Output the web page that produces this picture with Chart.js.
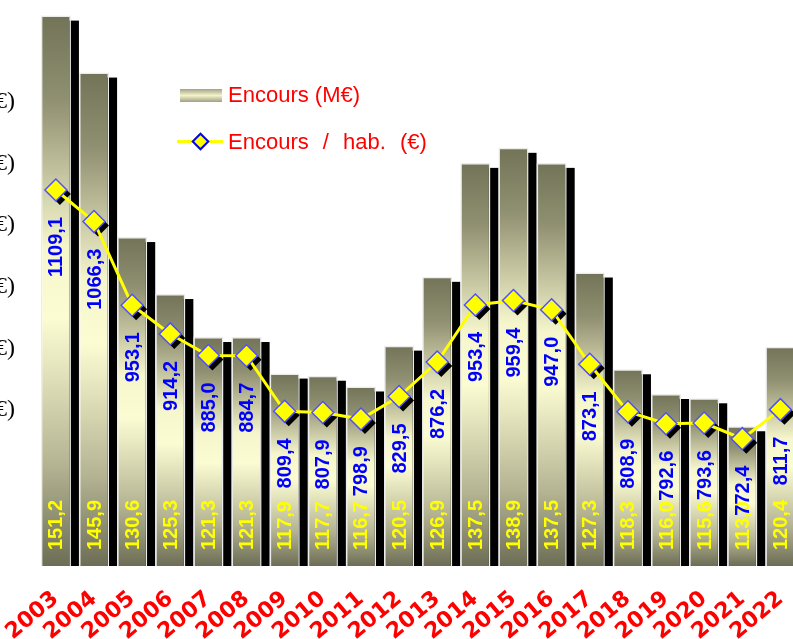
<!DOCTYPE html>
<html>
<head>
<meta charset="utf-8">
<script src="https://cdn.jsdelivr.net/npm/chart.js@4/dist/chart.umd.min.js"></script>
<style>
  html, body { margin: 0; padding: 0; width: 793px; height: 639px; overflow: hidden; background: #fff; }
  #wrap { position: absolute; left: -4px; top: 0; width: 816px; height: 639px; }
  .unit { position: absolute; width: 60px; text-align: right; font: 24px "Liberation Serif", serif; color: #000; line-height: 24px; }
  .leg { position: absolute; font: 22px "Liberation Sans", sans-serif; color: #ff0000; line-height: 22px; white-space: pre; }
  .swatch { position: absolute; left: 180px; top: 89px; width: 42px; height: 13px;
            background: linear-gradient(to bottom, #a3a385, #f3f3cb 50%, #9f9f81); }
  .lline { position: absolute; left: 177px; top: 140px; width: 46px; height: 3px; background: #ffff00; }
  .ldiam { position: absolute; left: 194px; top: 135px; width: 9px; height: 9px; background: #ffff00;
           border: 2px solid #0000ff; transform: rotate(45deg); }
</style>
</head>
<body>
<div id="wrap"><canvas id="chart"></canvas></div>

<div class="swatch"></div>
<div class="leg" style="left:228px; top:84px;">Encours (M€)</div>
<div class="lline"></div>
<div class="ldiam"></div>
<div class="leg" style="left:228px; top:131px; word-spacing:8px;">Encours / hab. (€)</div>

<script>
// ── Data ──────────────────────────────────────────────────────────
const YEARS = ['2003', '2004', '2005', '2006', '2007', '2008', '2009', '2010', '2011', '2012',
               '2013', '2014', '2015', '2016', '2017', '2018', '2019', '2020', '2021', '2022'];

// Encours (M€)
const ENCOURS = [151.2, 145.9, 130.6, 125.3, 121.3, 121.3, 117.9, 117.7, 116.7, 120.5,
                 126.9, 137.5, 138.9, 137.5, 127.3, 118.3, 116.0, 115.6, 113.0, 120.4];

// Encours / hab. (€)
const PAR_HAB = [1109.1, 1066.3, 953.1, 914.2, 885.0, 884.7, 809.4, 807.9, 798.9, 829.5,
                 876.2, 953.4, 959.4, 947.0, 873.1, 808.9, 792.6, 793.6, 772.4, 811.7];

// axis floors and scale (pixels per unit)
const BAR_MIN = 100, BAR_PX = 10.75;
const LINE_MIN = 600, LINE_PX = 0.7386;

// cropped unit labels on the left edge
const UNIT_TOPS = [88, 150, 211, 273, 335, 396];

UNIT_TOPS.forEach(t => {
  const d = document.createElement('div');
  d.className = 'unit';
  d.style.left = '-45px';
  d.style.top = t + 'px';
  d.textContent = '(€)';
  document.body.appendChild(d);
});

const fmt = v => v.toFixed(1).replace('.', ',');

function barGradient(c) {
  const chart = c.chart;
  if (!chart.chartArea || c.type !== 'data') return '#d8d8b0';
  const ys  = chart.scales.yBar;
  const top = ys.getPixelForValue(c.raw);
  const bot = chart.chartArea.bottom;
  const g = chart.ctx.createLinearGradient(0, top, 0, bot);
  g.addColorStop(0,    '#737358');
  g.addColorStop(0.15, '#8f8f71');
  g.addColorStop(0.42, '#f6f6cc');
  g.addColorStop(0.55, '#fcfcd3');
  g.addColorStop(0.82, '#b3b392');
  g.addColorStop(1,    '#6d6d56');
  return g;
}

// shadows + value labels
const decor = {
  id: 'decor',
  beforeDatasetDraw(chart, args) {
    const ctx = chart.ctx;
    const meta = args.meta;
    const bottom = chart.chartArea.bottom;
    ctx.save();
    ctx.fillStyle = '#000';
    if (meta.type === 'bar') {
      meta.data.forEach(b => {
        const w = b.width;
        ctx.fillRect(b.x - w / 2 + 8, b.y + 5, w, bottom - b.y - 5);
      });
    } else {
      meta.data.forEach(p => {
        const r = 11, x = p.x + 4, y = p.y + 4;
        ctx.beginPath();
        ctx.moveTo(x, y - r); ctx.lineTo(x + r, y); ctx.lineTo(x, y + r); ctx.lineTo(x - r, y);
        ctx.closePath();
        ctx.fill();
      });
    }
    ctx.restore();
  },
  afterDatasetsDraw(chart) {
    const ctx = chart.ctx;
    const bottom = chart.chartArea.bottom;
    const bars = chart.getDatasetMeta(0).data;
    const pts  = chart.getDatasetMeta(1).data;
    ctx.save();
    ctx.font = 'bold 20px "Liberation Sans", sans-serif';
    ctx.textBaseline = 'middle';

    ctx.fillStyle = '#ffff00';
    ctx.textAlign = 'left';
    bars.forEach((b, i) => {
      ctx.save();
      ctx.translate(b.x + 1, bottom - 16);
      ctx.rotate(-Math.PI / 2);
      ctx.fillText(fmt(ENCOURS[i]), 0, 0);
      ctx.restore();
    });

    ctx.fillStyle = '#0000ff';
    ctx.textAlign = 'right';
    pts.forEach((p, i) => {
      ctx.save();
      ctx.translate(p.x + 1, p.y + 27);
      ctx.rotate(-Math.PI / 2);
      ctx.fillText(fmt(PAR_HAB[i]), 0, 0);
      ctx.restore();
    });
    ctx.restore();
  }
};

const chart = new Chart(document.getElementById('chart'), {
  data: {
    labels: YEARS,
    datasets: [
      {
        type: 'bar',
        label: 'Encours (M€)',
        data: ENCOURS,
        yAxisID: 'yBar',
        backgroundColor: barGradient,
        borderColor: '#ececec',
        borderWidth: 1.5,
        categoryPercentage: 1,
        barPercentage: 0.79,
        order: 2,
      },
      {
        type: 'line',
        label: 'Encours / hab. (€)',
        data: PAR_HAB,
        yAxisID: 'yLine',
        borderColor: '#ffff00',
        borderWidth: 3,
        tension: 0,
        pointStyle: 'rectRot',
        pointRadius: 11,
        pointBackgroundColor: '#ffff00',
        pointBorderColor: '#5050ff',
        pointBorderWidth: 1.5,
        order: 1,
      }
    ]
  },
  options: {
    responsive: true,
    maintainAspectRatio: false,
    animation: false,
    devicePixelRatio: 1,
    layout: { padding: { left: 39, right: 11.5, top: 0, bottom: 0 } },
    scales: {
      x: {
        offset: true,
        grid: { display: false },
        border: { display: false },
        ticks: {
          color: '#ff0000',
          font: { family: '"DejaVu Sans", sans-serif', size: 22, weight: 'bold' },
          minRotation: 40, maxRotation: 40,
          autoSkip: false,
          padding: 12,
        },
        afterFit: s => { s.height = 73; }
      },
      yBar:  { display: false, min: BAR_MIN,  max: 160 },
      yLine: { display: false, min: LINE_MIN, max: 1400 },
    },
    plugins: {
      legend:  { display: false },
      tooltip: { enabled: false },
    }
  },
  plugins: [decor]
});

// y axes are hidden, so the plot height does not depend on their range:
// set each range so that one unit covers the measured number of pixels
const h = chart.chartArea.bottom - chart.chartArea.top;
chart.options.scales.yBar.max  = BAR_MIN  + h / BAR_PX;
chart.options.scales.yLine.max = LINE_MIN + h / LINE_PX;
chart.update();
</script>
</body>
</html>
